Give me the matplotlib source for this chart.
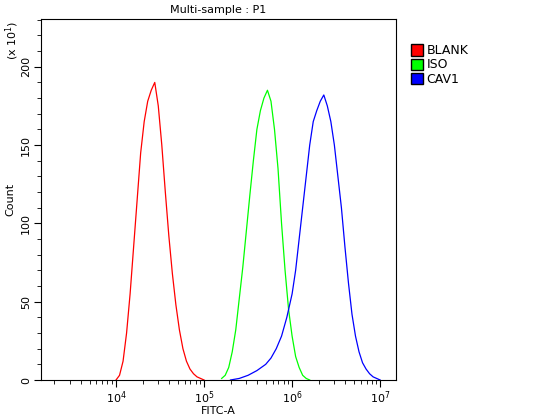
import matplotlib
matplotlib.use("Agg")
import matplotlib.pyplot as plt
import matplotlib.patches as mpatches
from matplotlib.ticker import MultipleLocator, LogLocator, NullFormatter

red_log = [4.00,4.04,4.08,4.12,4.16,4.20,4.24,4.28,4.32,4.36,4.40,4.44,4.48,4.52,4.56,4.60,4.64,4.68,4.72,4.76,4.80,4.84,4.88,4.92,4.96,5.00]
red_val = [0,3,12,30,55,85,115,145,165,178,185,190,175,150,120,92,68,48,32,20,12,7,4,2,1,0]
green_log = [5.20,5.24,5.28,5.32,5.36,5.40,5.44,5.48,5.52,5.56,5.60,5.64,5.68,5.72,5.76,5.80,5.84,5.88,5.92,5.96,6.00,6.04,6.08,6.12,6.16,6.20]
green_val = [1,3,8,18,32,52,72,95,118,140,160,172,180,185,178,160,135,100,70,45,28,15,8,3,1,0]
blue_log = [5.30,5.40,5.50,5.60,5.70,5.76,5.82,5.88,5.94,6.00,6.04,6.08,6.12,6.16,6.20,6.24,6.28,6.32,6.36,6.40,6.44,6.48,6.52,6.56,6.60,6.64,6.68,6.72,6.76,6.80,6.84,6.88,6.92,6.96,7.00]
blue_val = [0,1,3,6,10,14,20,28,40,55,70,90,110,130,150,165,172,178,182,175,165,150,130,110,85,62,42,28,18,11,7,4,2,1,0]
names = ["BLANK","ISO","CAV1"]
colors = ["#ff0000","#00ff00","#0000ff"]

fig = plt.figure(figsize=(5.33,4.19), dpi=100)
ax = fig.add_axes([41/533, 39/419, 355/533, 361/419])
for lg, v, c in [(red_log,red_val,colors[0]),(green_log,green_val,colors[1]),(blue_log,blue_val,colors[2])]:
    ax.plot([10**x for x in lg], v, color=c, lw=0.9)
ax.set_xscale("log")
ax.set_xlim(10**3.148, 10**7.18)
ax.set_ylim(0, 230.5)
ax.yaxis.set_major_locator(MultipleLocator(50))
ax.yaxis.set_minor_locator(MultipleLocator(10))
ax.xaxis.set_major_locator(LogLocator(10))
ax.xaxis.set_minor_locator(LogLocator(10, subs=range(2,10)))
ax.xaxis.set_minor_formatter(NullFormatter())
ax.tick_params(which="major", length=5, labelsize=8, pad=2)
ax.tick_params(which="minor", length=3)
for lab in ax.get_yticklabels():
    lab.set_rotation(90); lab.set_va("center")
ax.set_title("Multi-sample : P1", fontsize=8, pad=4)
ax.set_xlabel("FITC-A", fontsize=8, labelpad=0)
ax.set_ylabel("Count", fontsize=8)
fig.text(12/533, 1-40/419, r"(x 10$^1$)", rotation=90, fontsize=8, ha="center", va="center")
handles = [mpatches.Patch(facecolor=c, edgecolor="black", label=n) for n, c in zip(names, colors)]
fig.legend(handles=handles, loc="upper left", bbox_to_anchor=(405/533, 1-38/419), frameon=False,
           fontsize=9, handlelength=0.9, handleheight=1.0, handletextpad=0.3, labelspacing=0.1, borderpad=0)
fig.savefig("out.png", dpi=100)
